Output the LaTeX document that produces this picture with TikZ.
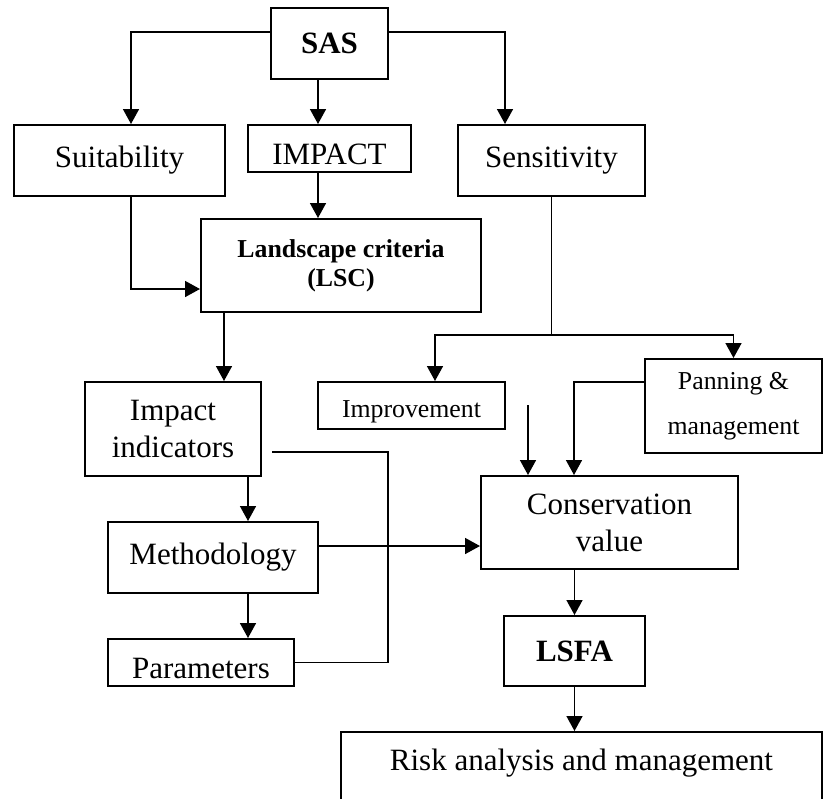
\documentclass[tikz,border=0pt]{standalone}
\usepackage{fontspec}
\setmainfont{Liberation Serif}
\usetikzlibrary{arrows.meta}
\newcommand{\bigtext}{\fontsize{15.5}{18.5}\selectfont}
\newcommand{\smalltext}{\fontsize{12.9}{14.5}\selectfont}

\begin{document}
\begin{tikzpicture}[x=0.5pt, y=-0.5pt,
    box/.style={draw, line width=1pt, inner sep=0pt, align=center, font=\bigtext},
    lowtext/.style={text height=#1, text depth=0pt},
    arr/.style={line width=0.8pt, -{Triangle[length=7.5pt, width=8pt]}},
    link/.style={line width=0.8pt}]
    \useasboundingbox (0,0) rectangle (824,798);
    \clip (0,0) rectangle (824,798);

    % top row
    \node[box, minimum width=58.5pt, minimum height=35.5pt, font=\bigtext\bfseries] (sas) at (329.5,43.5) {SAS};
    \node[box, minimum width=105.5pt, minimum height=35.5pt] (suit) at (119.5,160.5) {Suitability};
    \node[box, minimum width=81.5pt, minimum height=23.5pt, lowtext=15.5pt] (impact) at (329.5,148.5) {IMPACT};
    \node[box, minimum width=93.5pt, minimum height=35.5pt] (sens) at (551.5,160.5) {Sensitivity};
    \node[box, minimum width=140pt, minimum height=46.5pt, font=\smalltext\bfseries] (lsc) at (341,265.5) {Landscape criteria\\(LSC)};

    % middle
    \node[box, minimum width=88pt, minimum height=47pt] (indic) at (173,429) {Impact\\indicators};
    \node[box, minimum width=93.5pt, minimum height=23.5pt, font=\smalltext, lowtext=11.5pt] (improv) at (411.5,405.5) {Improvement};
    \node[box, minimum width=88.5pt, minimum height=47pt, font=\fontsize{12.9}{22.5}\selectfont] (plan) at (733.5,406) {Panning \&\\management};
    \node[box, minimum width=105pt, minimum height=35.5pt] (method) at (213,557.5) {Methodology};
    \node[box, minimum width=128.5pt, minimum height=46.5pt] (cons) at (609.5,522.5) {Conservation\\value};
    \node[box, minimum width=93pt, minimum height=23.5pt, lowtext=15.5pt] (param) at (201,662.5) {Parameters};

    % bottom
    \node[box, minimum width=70.5pt, minimum height=35pt, font=\bigtext\bfseries] (lsfa) at (574.5,651) {LSFA};
    \node[box, minimum width=240.5pt, minimum height=36pt, text height=10pt, text depth=8pt] (risk) at (581.5,768) {Risk analysis and management};

    \coordinate (cin) at (528,405);
    \coordinate (iout) at (272,452);
    \coordinate (sbranch) at (sens.south |- 0,335);

    % connectors
    \draw[arr] ([yshift=5.75pt]sas.west) -| ([xshift=5.75pt]suit.north);
    \draw[arr] ([yshift=5.75pt]sas.east) -| ([xshift=-23.25pt]sens.north);
    \draw[arr] ([xshift=-5.75pt]sas.south) -- ([xshift=-5.75pt]impact.north);
    \draw[arr] ([xshift=-5.75pt]impact.south) -- ([xshift=-5.75pt]impact.south |- lsc.north);
    \draw[arr] ([xshift=5.75pt]suit.south) |- ([yshift=-11.75pt]lsc.west);
    \draw[arr] ([xshift=12pt]lsc.south west) -- ([xshift=12pt]lsc.south west |- indic.north);
    \draw[line width=0.5pt] (sens.south) -- (sbranch);
    \draw[arr] (sbranch) -| ([xshift=11.75pt]improv.north);
    \draw[arr] (sbranch) -| (plan.north);
    \draw[arr] ([yshift=12pt]plan.west) -| ([xshift=-17.75pt]cons.north);
    \draw[arr] (cin) -- (cin |- cons.north);
    \draw[link] (iout) -- (388,452) |- (param.east);
    \draw[arr] ([xshift=37.5pt]indic.south) -- ([xshift=37.5pt]indic.south |- method.north);
    \draw[arr] ([yshift=5.75pt]method.east) -- ([yshift=5.75pt]method.east -| cons.west);
    \draw[arr] ([xshift=17.5pt]method.south) -- ([xshift=17.5pt]method.south |- param.north);
    \draw[arr] (lsfa.north |- cons.south) -- (lsfa.north);
    \draw[arr] (lsfa.south) -- (lsfa.south |- risk.north);
\end{tikzpicture}
\end{document}
